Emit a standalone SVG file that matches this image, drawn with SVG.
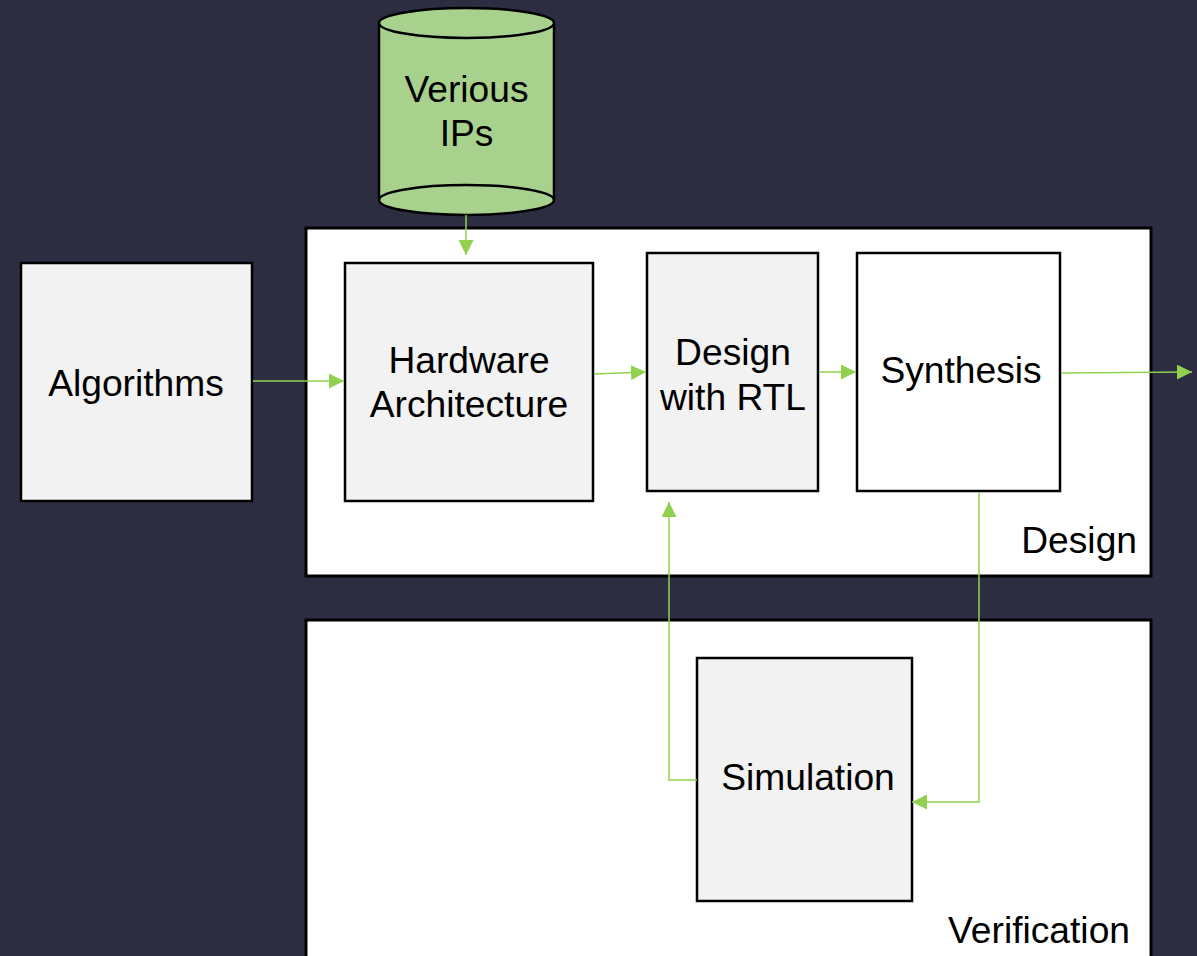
<svg xmlns="http://www.w3.org/2000/svg" width="1197" height="956" viewBox="0 0 1197 956">
  <defs>
    <style>
      .bg { fill: #2d2d42; }
      .panel { fill: #ffffff; stroke: #000000; stroke-width: 3; }
      .box { fill: #f2f2f2; stroke: #000000; stroke-width: 2.5; }
      .box-white { fill: #ffffff; stroke: #000000; stroke-width: 2.5; }
      .db { fill: #a9d18e; stroke: #000000; stroke-width: 2.5; }
      .label { font-family: "Liberation Sans", Arial, sans-serif; font-size: 37.2px; fill: #000000; }
      .mid { text-anchor: middle; }
      .end { text-anchor: end; }
      .link { fill: none; stroke: #92d050; stroke-width: 1.5; }
    </style>
    <marker id="arrow" viewBox="0 0 10 10" refX="10" refY="5" markerWidth="15" markerHeight="15" markerUnits="userSpaceOnUse" orient="auto">
      <path d="M0,0 L10,5 L0,10 Z" fill="#92d050"/>
    </marker>
  </defs>

  <rect class="bg" x="0" y="0" width="1197" height="956"/>

  <!-- stage containers -->
  <g id="design-stage">
    <rect class="panel" x="306" y="228" width="845" height="348"/>
    <text class="label end" x="1137" y="553">Design</text>
  </g>
  <g id="verification-stage">
    <rect class="panel" x="306" y="620" width="845" height="345"/>
    <text class="label end" x="1130" y="943">Verification</text>
  </g>

  <!-- IP library -->
  <g id="ip-library">
    <path class="db" d="M379,23 L379,200 A87.5,15 0 0 0 554,200 L554,23 Z"/>
    <ellipse class="db" cx="466.5" cy="23" rx="87.5" ry="15"/>
    <path fill="none" stroke="#000000" stroke-width="2.5" d="M379,200 A87.5,15 0 0 1 554,200"/>
    <text class="label mid" x="466.5" y="102">Verious</text>
    <text class="label mid" x="466.5" y="146">IPs</text>
  </g>

  <g id="algorithms">
    <rect class="box" x="21" y="263" width="231" height="238"/>
    <text class="label mid" x="136" y="396">Algorithms</text>
  </g>

  <g id="hardware-architecture">
    <rect class="box" x="345" y="263" width="248" height="238"/>
    <text class="label mid" x="469" y="373">Hardware</text>
    <text class="label mid" x="469" y="417">Architecture</text>
  </g>

  <g id="design-rtl">
    <rect class="box" x="647" y="253" width="171" height="238"/>
    <text class="label mid" x="733" y="365">Design</text>
    <text class="label mid" x="733" y="410">with RTL</text>
  </g>

  <g id="synthesis">
    <rect class="box-white" x="857" y="253" width="203" height="238"/>
    <text class="label mid" x="961" y="383">Synthesis</text>
  </g>

  <g id="simulation">
    <rect class="box" x="697" y="658" width="215" height="243"/>
    <text class="label mid" x="808" y="790">Simulation</text>
  </g>

  <!-- flow connectors -->
  <g id="connectors">
    <path class="link" marker-end="url(#arrow)" d="M466,215 L466,255"/>
    <path class="link" marker-end="url(#arrow)" d="M253,381 L344,381"/>
    <path class="link" marker-end="url(#arrow)" d="M594,374 L646,372"/>
    <path class="link" marker-end="url(#arrow)" d="M819,372 L856,372"/>
    <path class="link" marker-end="url(#arrow)" d="M1061,373 L1192,372"/>
    <path class="link" marker-end="url(#arrow)" d="M979,492 L979,802 L912,802"/>
    <path class="link" marker-end="url(#arrow)" d="M697,780 L669,780 L669,502"/>
  </g>
</svg>
